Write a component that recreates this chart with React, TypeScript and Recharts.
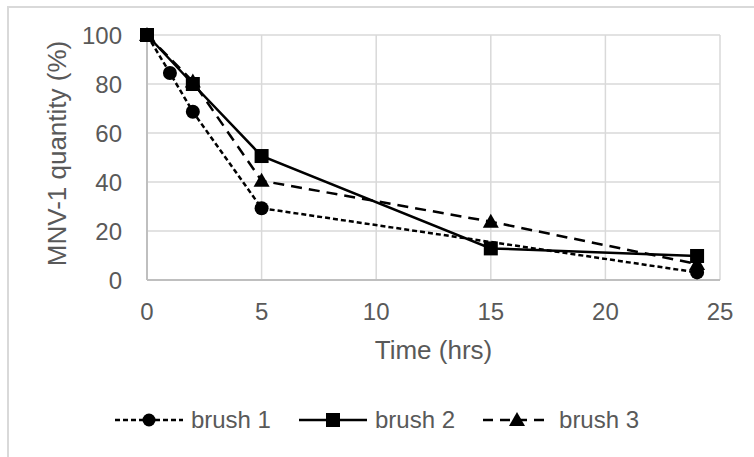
import { CartesianGrid, Legend, Line, LineChart, XAxis, YAxis } from 'recharts'

const TIME_TICKS = [0, 5, 10, 15, 20, 25]
const PCT_TICKS = [0, 20, 40, 60, 80, 100]

const brush1Times = [0, 1, 2, 5, 24]
const brush1Values = [100, 84.5, 68.7, 29.3, 3.1]

const brush2Times = [0, 2, 5, 15, 24]
const brush2Values = [100, 80, 50.6, 12.9, 9.8]

const brush3Times = [0, 2, 5, 15, 24]
const brush3Values = [100, 81, 40.5, 23.8, 6.5]

const SERIES_NAMES = ['brush 1', 'brush 2', 'brush 3']

const toPoints = (times: number[], values: number[]) => times.map((t, i) => ({ t, y: values[i] }))

const TEXT = '#595959'
const FONT = '"Liberation Sans", Arial, sans-serif'

type DotProps = { cx?: number; cy?: number; index?: number }

const circleDot = (p: DotProps) => <circle key={`c${p.index}`} cx={p.cx} cy={p.cy} r={7} fill="#000" />
const squareDot = (p: DotProps) => (
  <rect key={`s${p.index}`} x={(p.cx ?? 0) - 7} y={(p.cy ?? 0) - 7} width={14} height={14} fill="#000" />
)
const triangleDot = (p: DotProps) => {
  const x = p.cx ?? 0
  const y = p.cy ?? 0
  return <polygon key={`t${p.index}`} points={`${x},${y - 8} ${x - 8},${y + 6} ${x + 8},${y + 6}`} fill="#000" />
}

const legendItems = [
  { name: SERIES_NAMES[0], dash: '5 3', marker: 'circle' },
  { name: SERIES_NAMES[1], dash: undefined, marker: 'square' },
  { name: SERIES_NAMES[2], dash: '10 7', marker: 'triangle' },
]

function LegendContent() {
  return (
    <div style={{ display: 'flex', justifyContent: 'center', gap: 28, fontFamily: FONT, fontSize: 24, color: TEXT }}>
      {legendItems.map((it) => (
        <div key={it.name} style={{ display: 'flex', alignItems: 'center' }}>
          <svg width={68} height={20} style={{ marginRight: 8 }}>
            <line x1={0} y1={10} x2={68} y2={10} stroke="#000" strokeWidth={2.5} strokeDasharray={it.dash} />
            {it.marker === 'circle' && <circle cx={34} cy={10} r={6.5} fill="#000" />}
            {it.marker === 'square' && <rect x={27} y={3} width={14} height={14} fill="#000" />}
            {it.marker === 'triangle' && <polygon points="34,2 26,16 42,16" fill="#000" />}
          </svg>
          <span style={{ lineHeight: '28px' }}>{it.name}</span>
        </div>
      ))}
    </div>
  )
}

export default function App() {
  return (
    <div style={{ position: 'absolute', left: 0, top: 0, width: 754, height: 457, background: '#fff', overflow: 'hidden' }}>
      <div
        style={{
          position: 'absolute',
          left: 7,
          top: 6,
          width: 760,
          height: 470,
          border: '2px solid #d9d9d9',
        }}
      />
      <LineChart width={754} height={457} margin={{ top: 35, right: 34, left: 0, bottom: 117 }}>
        <CartesianGrid stroke="#d9d9d9" strokeWidth={1.5} />
        <XAxis
          dataKey="t"
          type="number"
          domain={[0, 25]}
          ticks={TIME_TICKS}
          height={60}
          stroke="#bfbfbf"
          strokeWidth={2}
          tickLine={false}
          tickSize={6}
          tickMargin={17}
          tick={{ fill: TEXT, fontSize: 24, fontFamily: FONT }}
          label={{ value: 'Time (hrs)', position: 'bottom', offset: 1, fill: TEXT, fontSize: 26, fontFamily: FONT }}
        />
        <YAxis
          type="number"
          domain={[0, 100]}
          ticks={PCT_TICKS}
          width={147}
          stroke="#bfbfbf"
          strokeWidth={2}
          tickLine={false}
          tickSize={6}
          tickMargin={19}
          tick={{ fill: TEXT, fontSize: 24, fontFamily: FONT }}
          label={(props: { viewBox?: { x: number; y: number; height: number } }) => {
            const vb = props.viewBox ?? { x: 0, y: 0, height: 0 }
            const x = vb.x + 66
            const y = vb.y + vb.height / 2 - 4
            return (
              <text
                x={x}
                y={y}
                transform={`rotate(-90, ${x}, ${y})`}
                textAnchor="middle"
                fill={TEXT}
                fontSize={26}
                fontFamily={FONT}
              >
                MNV-1 quantity (%)
              </text>
            )
          }}
        />
        <Legend
          layout="vertical"
          align="center"
          verticalAlign="middle"
          wrapperStyle={{ top: 406, left: 0, width: 754 }}
          content={() => <LegendContent />}
        />
        <Line
          data={toPoints(brush3Times, brush3Values)}
          dataKey="y"
          name={SERIES_NAMES[2]}
          stroke="#000"
          strokeWidth={2.5}
          strokeDasharray="11 7"
          dot={triangleDot}
          activeDot={false}
          isAnimationActive={false}
        />
        <Line
          data={toPoints(brush1Times, brush1Values)}
          dataKey="y"
          name={SERIES_NAMES[0]}
          stroke="#000"
          strokeWidth={2.5}
          strokeDasharray="5 3"
          dot={circleDot}
          activeDot={false}
          isAnimationActive={false}
        />
        <Line
          data={toPoints(brush2Times, brush2Values)}
          dataKey="y"
          name={SERIES_NAMES[1]}
          stroke="#000"
          strokeWidth={2.5}
          dot={squareDot}
          activeDot={false}
          isAnimationActive={false}
        />
      </LineChart>
    </div>
  )
}
